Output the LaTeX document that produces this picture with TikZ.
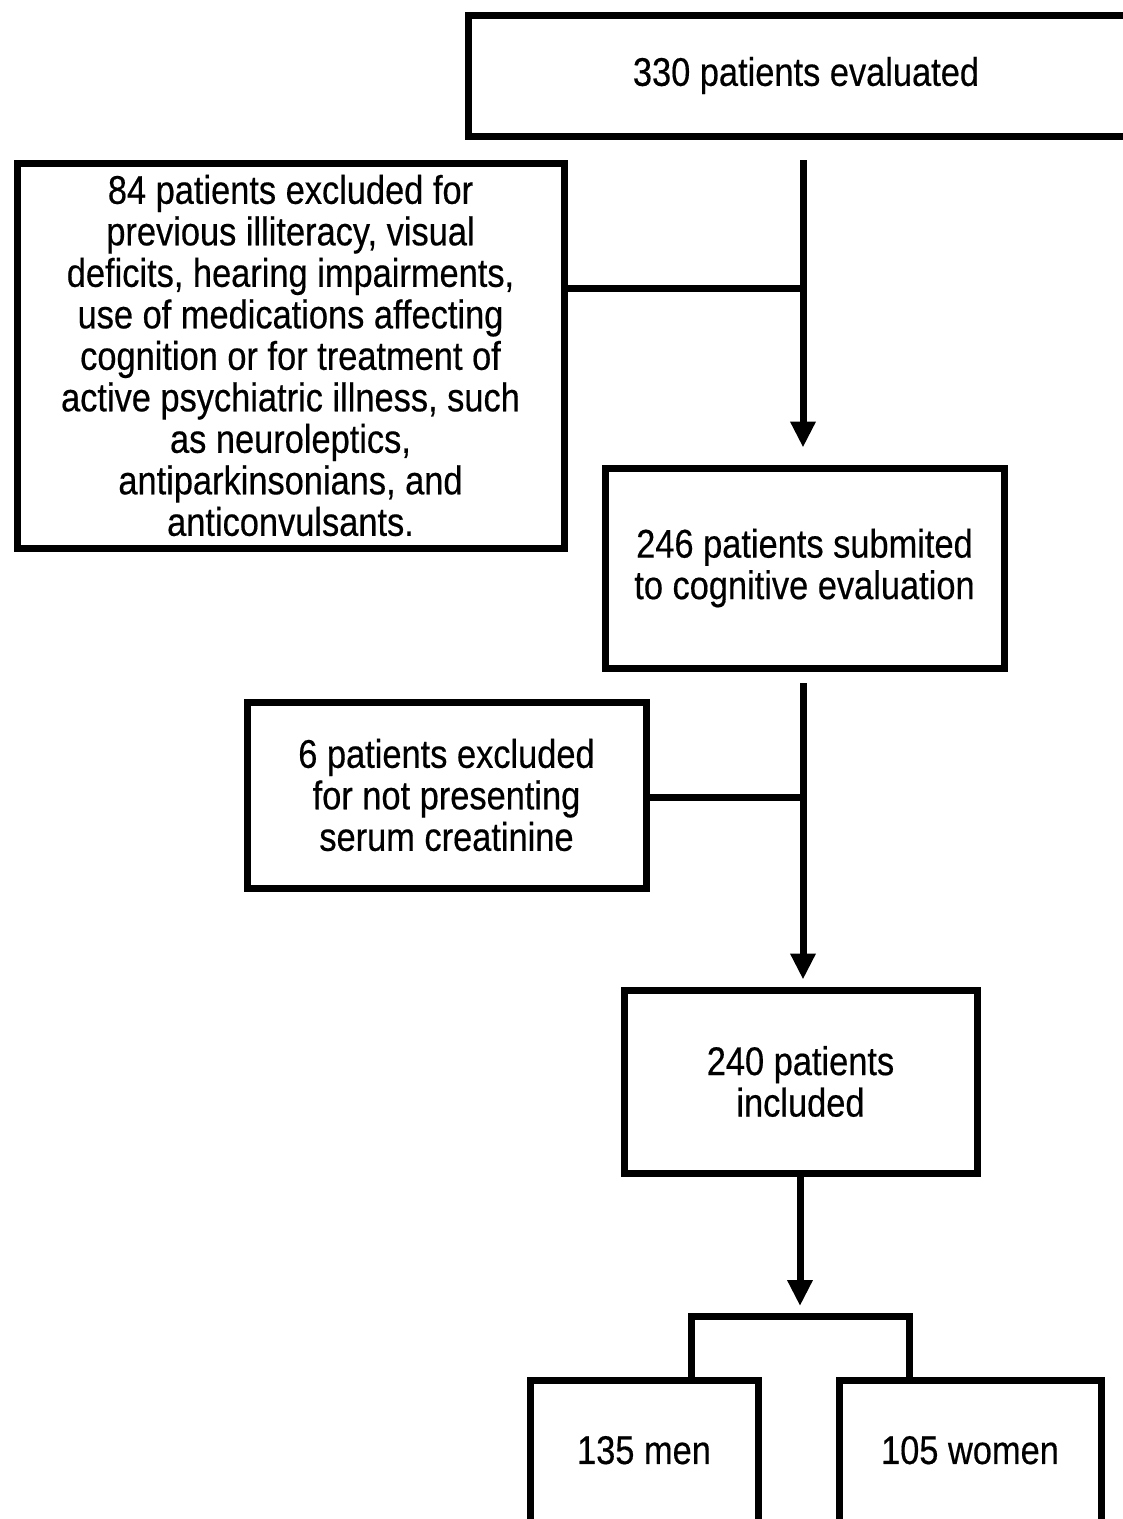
\documentclass[tikz,border=0pt]{standalone}
\usepackage{fontspec}
\setmainfont{Liberation Sans}[FakeStretch=0.86,FakeBold=0.4]
\usetikzlibrary{arrows.meta}
\begin{document}
\begin{tikzpicture}[x=1pt,y=-1pt,
  box/.style={draw=black, line width=7pt, fill=white, rectangle, inner sep=0pt, align=center,
              font=\fontsize{40}{41.5}\selectfont},
  conn/.style={line width=7pt, draw=black},
  arr/.style={conn, -{Triangle[width=24pt,length=26pt]}}]
\useasboundingbox (0,0) rectangle (1123,1519);
\fill[white] (0,0) rectangle (1123,1519);
\clip (0,0) rectangle (1123,1519);

\node[box, minimum width=676pt, minimum height=121pt] (top) at (806,75.5) {330 patients evaluated};
\node[box, minimum width=547pt, minimum height=385pt] (excl1) at (290.5,355.5)
  {84 patients excluded for\\previous illiteracy, visual\\deficits, hearing impairments,\\use of medications affecting\\cognition or for treatment of\\active psychiatric illness, such\\as neuroleptics,\\antiparkinsonians, and\\anticonvulsants.};
\node[box, minimum width=399pt, minimum height=200pt] (cog) at (804.5,568)
  {246 patients submited\\to cognitive evaluation};
\node[box, minimum width=399pt, minimum height=186pt] (excl2) at (446.5,795)
  {6 patients excluded\\for not presenting\\serum creatinine};
\node[box, minimum width=353pt, minimum height=183pt] (incl) at (800.5,1081.5)
  {240 patients\\included};
\node[box, minimum width=228pt, minimum height=144pt] (men) at (644,1452)
  {\raisebox{4pt}{135 men}};
\node[box, minimum width=262pt, minimum height=144pt] (women) at (970,1452)
  {\raisebox{4pt}{105 women}};

\coordinate (t1) at (803,160);
\coordinate (j1) at (803,288);
\coordinate (t2) at (803,683);
\coordinate (j2) at (803,797);
\coordinate (t3) at (800,1176);
\coordinate (bl) at (691,1316);
\coordinate (br) at (909,1316);

\draw[arr, shorten >=17pt] (t1) -- (cog.north -| t1);
\draw[conn] (j1 -| excl1.east) -- (j1);
\draw[arr, shorten >=7pt] (t2) -- (incl.north -| t2);
\draw[conn] (j2 -| excl2.east) -- (j2);
\draw[arr, shorten >=10pt] (t3) -- (bl -| t3);
\draw[conn] (men.north -| bl) -- (bl) -- (br) -- (women.north -| br);
\end{tikzpicture}
\end{document}
